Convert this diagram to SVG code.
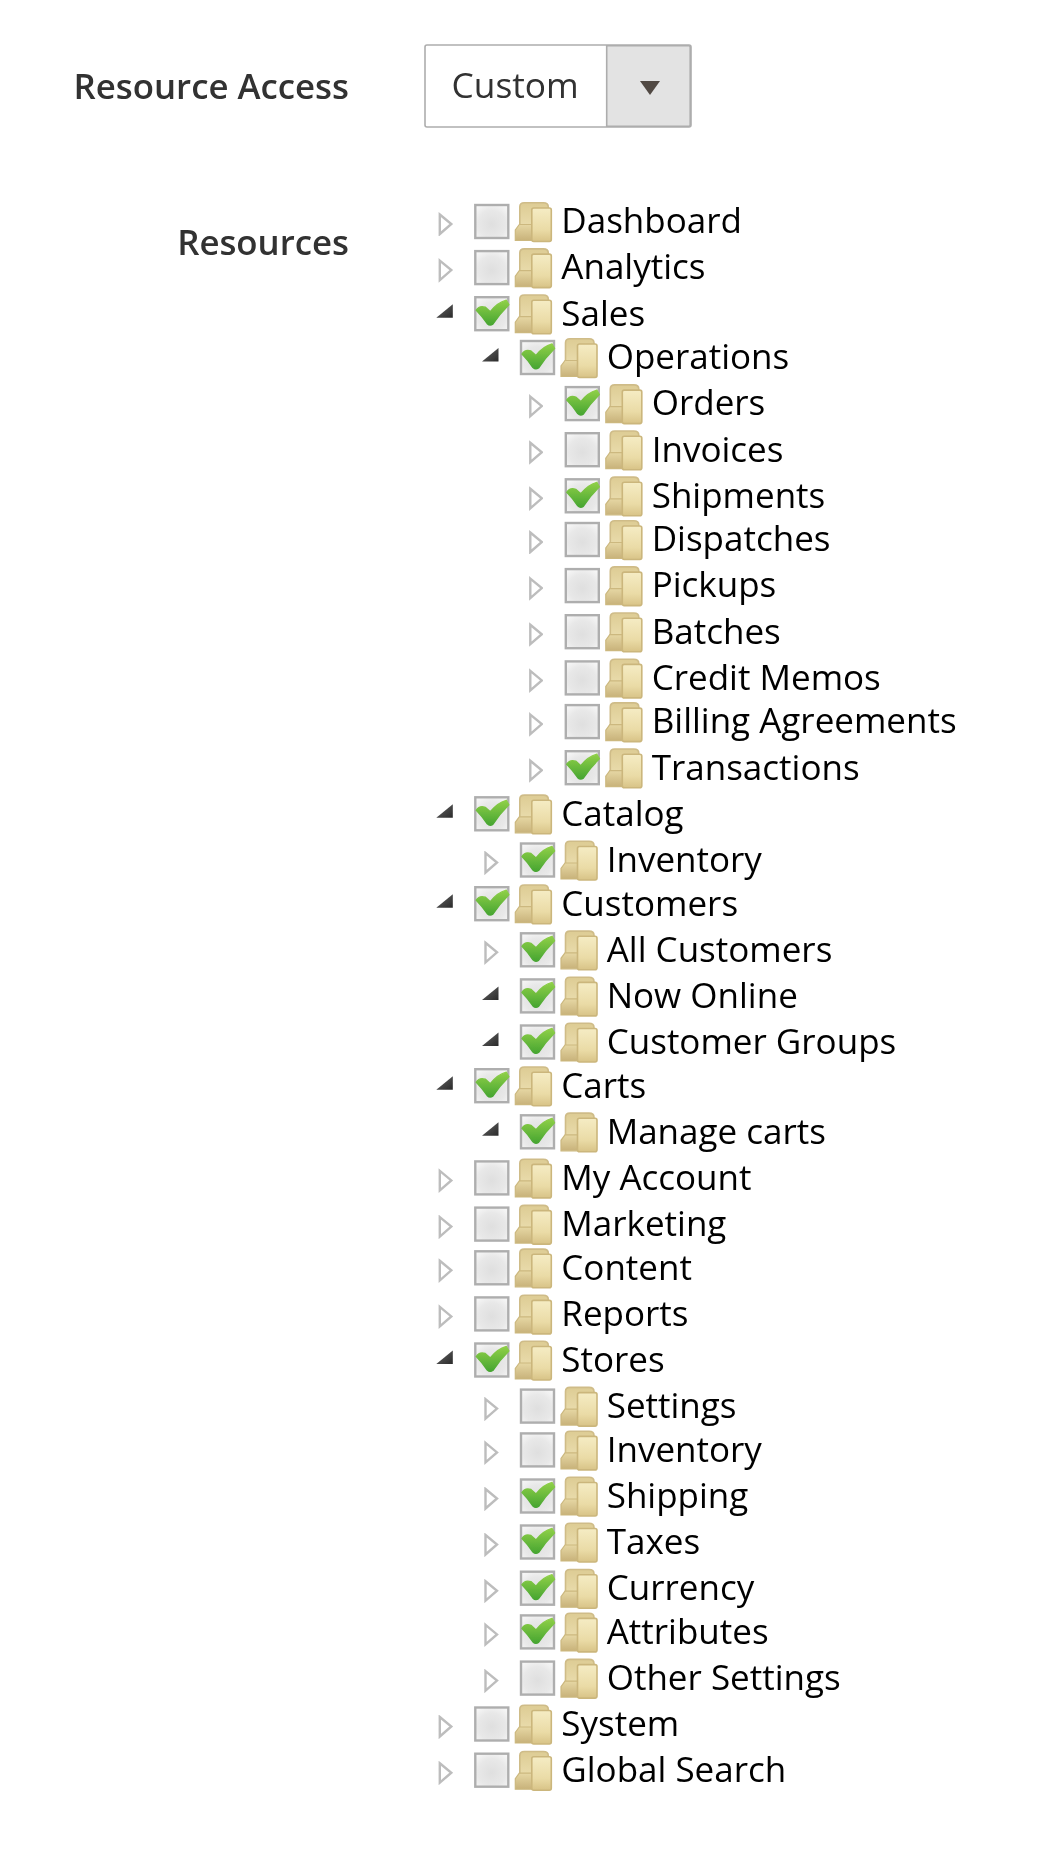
<svg xmlns="http://www.w3.org/2000/svg" width="1048" height="1854" viewBox="0 0 1048 1854">
<style>
text{font-family:"Open Sans","Noto Sans","Liberation Sans",sans-serif}
.t{font-size:35px;fill:#000;filter:url(#softt)}
.l{font-size:34.800px;font-weight:600;fill:#303030;text-anchor:end;filter:url(#softt)}
.c{font-size:35.300px;fill:#303030;filter:url(#softt)}
</style>
<defs>
<filter id="soft" x="-10%" y="-10%" width="120%" height="120%"><feGaussianBlur stdDeviation="0.75"/></filter>
<filter id="softt" x="-5%" y="-10%" width="110%" height="120%"><feGaussianBlur stdDeviation="0.35"/></filter>
<radialGradient id="box" cx="50%" cy="58%" r="70%"><stop offset="0" stop-color="#dfdfdf"/><stop offset="0.6" stop-color="#e8e8e8"/><stop offset="1" stop-color="#f8f8f8"/></radialGradient>
<linearGradient id="gc" x1="0" y1="0" x2="0" y2="1"><stop offset="0" stop-color="#90d048"/><stop offset="1" stop-color="#46a531"/></linearGradient>
<linearGradient id="gf" x1="0" y1="0" x2="0" y2="1"><stop offset="0" stop-color="#f5ecc4"/><stop offset="0.65" stop-color="#eadba6"/><stop offset="1" stop-color="#d8c387"/></linearGradient>
<linearGradient id="gb" x1="0" y1="0" x2="0" y2="1"><stop offset="0" stop-color="#ddcc94"/><stop offset="1" stop-color="#eee2b6"/></linearGradient>
<linearGradient id="gl" x1="0" y1="0" x2="0" y2="1"><stop offset="0" stop-color="#e6d7a4"/><stop offset="1" stop-color="#c8b27a"/></linearGradient>
<linearGradient id="ga" x1="0" y1="0" x2="1" y2="1"><stop offset="0" stop-color="#666"/><stop offset="1" stop-color="#2a2a2a"/></linearGradient>
<g id="folder" filter="url(#soft)">
<path d="M45.500 32V3Q45.500-1.200 50-1.200H69Q74-1.200 74 3V32Z" fill="url(#gb)" stroke="#cfbc88" stroke-width="1.600"/>
<path d="M41 36.500V26L45 20.500H58V36.500Z" fill="url(#gl)" stroke="#ccb87f" stroke-width="1.200"/>
<rect x="57.500" y="4" width="19.500" height="33.500" rx="2" fill="url(#gf)" stroke="#cbb67c" stroke-width="1.600"/>
</g>
<g id="empty" filter="url(#soft)"><rect x="1" y="1" width="33" height="33" fill="url(#box)" stroke="#aeaeae" stroke-width="2.400"/></g>
<g id="checked" filter="url(#soft)"><rect x="1" y="1" width="33" height="33" fill="url(#box)" stroke="#aeaeae" stroke-width="2.400"/><path d="M2 14Q5 9 11 11L16 15.500Q23 6.500 32 4L34.500 8.500Q25 18 18.500 28Q15.500 30 13 27.500Q8 20 2 14Z" fill="url(#gc)" stroke="url(#gc)" stroke-width="1.400"/></g>
<g id="closed" filter="url(#soft)"><path d="M-34.500 10.500-23 20-34.500 30Z" fill="#fff" stroke="#bdbdbd" stroke-width="2.400"/></g>
<g id="open" filter="url(#soft)"><path d="M-21.500 8V21.500H-38Z" fill="url(#ga)"/></g>
</defs>
<rect width="1048" height="1854" fill="#fff"/>
<text id="label-access" class="l" x="349" y="99.300">Resource Access</text>
<text id="label-resources" class="l" x="349" y="255">Resources</text>
<g id="select">
<rect x="425" y="45" width="266" height="82" rx="2" fill="#fff" stroke="#adadad" stroke-width="1.600"/>
<path d="M606.700 45.800H689Q690.200 45.800 690.200 47V125Q690.200 126.200 689 126.200H606.700Z" fill="#e3e3e3" stroke="#adadad" stroke-width="1.600"/>
<text class="c" x="451.500" y="97.500">Custom</text>
<path d="M640 81H660L650 95Z" fill="#514943"/>
</g>
<g id="tree">
<g id="n-dashboard" transform="translate(474.300 204)"><use href="#closed"/><use href="#empty"/><use href="#folder"/><text class="t" x="87" y="29.300">Dashboard</text></g>
<g id="n-analytics" transform="translate(474.300 250.100)"><use href="#closed"/><use href="#empty"/><use href="#folder"/><text class="t" x="87" y="29.300">Analytics</text></g>
<g id="n-sales" transform="translate(474.300 296.200)"><use href="#open"/><use href="#checked"/><use href="#folder"/><text class="t" x="87" y="29.300">Sales</text></g>
<g id="n-operations" transform="translate(520 340)"><use href="#open"/><use href="#checked"/><use href="#folder"/><text class="t" x="86.700" y="29.300">Operations</text></g>
<g id="n-orders" transform="translate(564.800 386.100)"><use href="#closed"/><use href="#checked"/><use href="#folder"/><text class="t" x="86.900" y="29.300">Orders</text></g>
<g id="n-invoices" transform="translate(564.800 432.200)"><use href="#closed"/><use href="#empty"/><use href="#folder"/><text class="t" x="86.900" y="29.300">Invoices</text></g>
<g id="n-shipments" transform="translate(564.800 478.300)"><use href="#closed"/><use href="#checked"/><use href="#folder"/><text class="t" x="86.900" y="29.300">Shipments</text></g>
<g id="n-dispatches" transform="translate(564.800 522)"><use href="#closed"/><use href="#empty"/><use href="#folder"/><text class="t" x="86.900" y="29.300">Dispatches</text></g>
<g id="n-pickups" transform="translate(564.800 568.100)"><use href="#closed"/><use href="#empty"/><use href="#folder"/><text class="t" x="86.900" y="29.300">Pickups</text></g>
<g id="n-batches" transform="translate(564.800 614.200)"><use href="#closed"/><use href="#empty"/><use href="#folder"/><text class="t" x="86.900" y="29.300">Batches</text></g>
<g id="n-credit-memos" transform="translate(564.800 660.400)"><use href="#closed"/><use href="#empty"/><use href="#folder"/><text class="t" x="86.900" y="29.300">Credit Memos</text></g>
<g id="n-billing" transform="translate(564.800 704.100)"><use href="#closed"/><use href="#empty"/><use href="#folder"/><text class="t" x="86.900" y="29.300">Billing Agreements</text></g>
<g id="n-transactions" transform="translate(564.800 750.200)"><use href="#closed"/><use href="#checked"/><use href="#folder"/><text class="t" x="86.900" y="29.300">Transactions</text></g>
<g id="n-catalog" transform="translate(474.300 796.300)"><use href="#open"/><use href="#checked"/><use href="#folder"/><text class="t" x="87" y="29.300">Catalog</text></g>
<g id="n-inventory-1" transform="translate(520 842.500)"><use href="#closed"/><use href="#checked"/><use href="#folder"/><text class="t" x="86.700" y="29.300">Inventory</text></g>
<g id="n-customers" transform="translate(474.300 886.200)"><use href="#open"/><use href="#checked"/><use href="#folder"/><text class="t" x="87" y="29.300">Customers</text></g>
<g id="n-all-customers" transform="translate(520 932.300)"><use href="#closed"/><use href="#checked"/><use href="#folder"/><text class="t" x="86.700" y="29.300">All Customers</text></g>
<g id="n-now-online" transform="translate(520 978.400)"><use href="#open"/><use href="#checked"/><use href="#folder"/><text class="t" x="86.700" y="29.300">Now Online</text></g>
<g id="n-customer-groups" transform="translate(520 1024.500)"><use href="#open"/><use href="#checked"/><use href="#folder"/><text class="t" x="86.700" y="29.300">Customer Groups</text></g>
<g id="n-carts" transform="translate(474.300 1068.200)"><use href="#open"/><use href="#checked"/><use href="#folder"/><text class="t" x="87" y="29.300">Carts</text></g>
<g id="n-manage-carts" transform="translate(520 1114.300)"><use href="#open"/><use href="#checked"/><use href="#folder"/><text class="t" x="86.700" y="29.300">Manage carts</text></g>
<g id="n-my-account" transform="translate(474.300 1160.400)"><use href="#closed"/><use href="#empty"/><use href="#folder"/><text class="t" x="87" y="29.300">My Account</text></g>
<g id="n-marketing" transform="translate(474.300 1206.600)"><use href="#closed"/><use href="#empty"/><use href="#folder"/><text class="t" x="87" y="29.300">Marketing</text></g>
<g id="n-content" transform="translate(474.300 1250.300)"><use href="#closed"/><use href="#empty"/><use href="#folder"/><text class="t" x="87" y="29.300">Content</text></g>
<g id="n-reports" transform="translate(474.300 1296.400)"><use href="#closed"/><use href="#empty"/><use href="#folder"/><text class="t" x="87" y="29.300">Reports</text></g>
<g id="n-stores" transform="translate(474.300 1342.500)"><use href="#open"/><use href="#checked"/><use href="#folder"/><text class="t" x="87" y="29.300">Stores</text></g>
<g id="n-settings" transform="translate(520 1388.600)"><use href="#closed"/><use href="#empty"/><use href="#folder"/><text class="t" x="86.700" y="29.300">Settings</text></g>
<g id="n-inventory-2" transform="translate(520 1432.400)"><use href="#closed"/><use href="#empty"/><use href="#folder"/><text class="t" x="86.700" y="29.300">Inventory</text></g>
<g id="n-shipping" transform="translate(520 1478.500)"><use href="#closed"/><use href="#checked"/><use href="#folder"/><text class="t" x="86.700" y="29.300">Shipping</text></g>
<g id="n-taxes" transform="translate(520 1524.500)"><use href="#closed"/><use href="#checked"/><use href="#folder"/><text class="t" x="86.700" y="29.300">Taxes</text></g>
<g id="n-currency" transform="translate(520 1570.700)"><use href="#closed"/><use href="#checked"/><use href="#folder"/><text class="t" x="86.700" y="29.300">Currency</text></g>
<g id="n-attributes" transform="translate(520 1614.400)"><use href="#closed"/><use href="#checked"/><use href="#folder"/><text class="t" x="86.700" y="29.300">Attributes</text></g>
<g id="n-other-settings" transform="translate(520 1660.600)"><use href="#closed"/><use href="#empty"/><use href="#folder"/><text class="t" x="86.700" y="29.300">Other Settings</text></g>
<g id="n-system" transform="translate(474.300 1706.500)"><use href="#closed"/><use href="#empty"/><use href="#folder"/><text class="t" x="87" y="29.300">System</text></g>
<g id="n-global-search" transform="translate(474.300 1752.700)"><use href="#closed"/><use href="#empty"/><use href="#folder"/><text class="t" x="87" y="29.300">Global Search</text></g>
</g>
<g id="connectors"/>
</svg>
